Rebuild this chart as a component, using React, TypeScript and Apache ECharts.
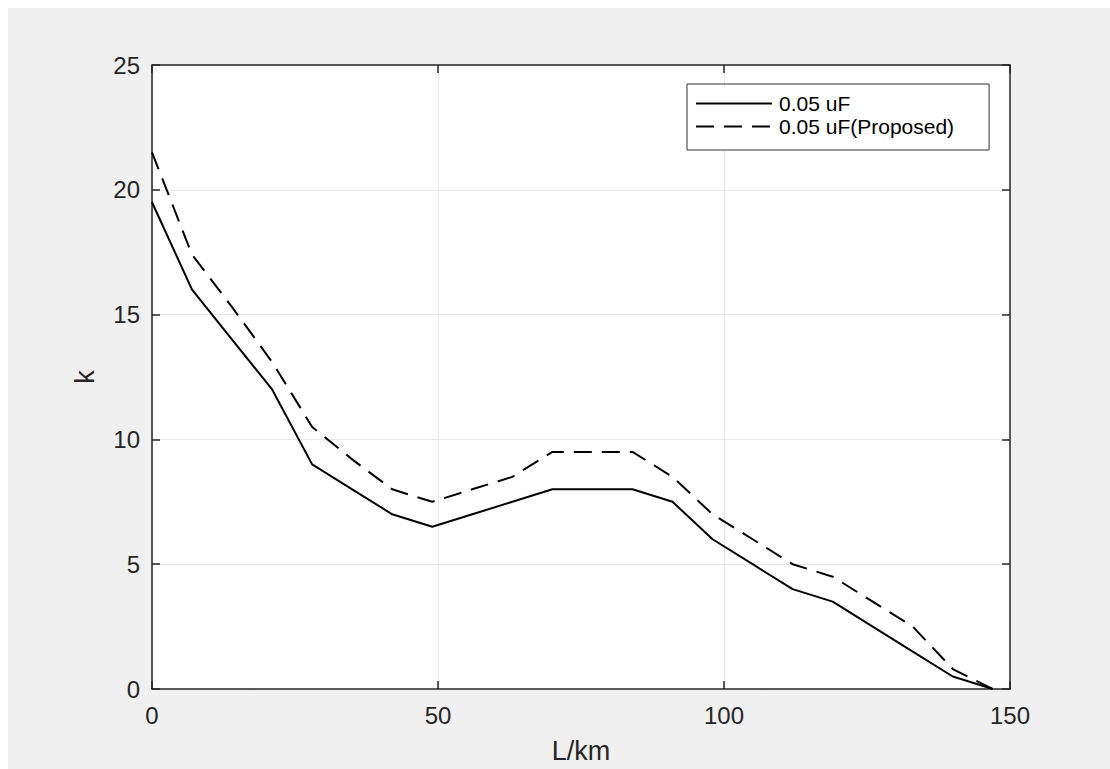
import React, { useEffect, useRef } from "react";
import * as echarts from "echarts";

const distanceKm = [0, 7, 14, 21, 28, 35, 42, 49, 56, 63, 70, 77, 84, 91, 98, 105, 112, 119, 126, 133, 140, 147];
const kBase = [19.5, 16, 14, 12, 9, 8, 7, 6.5, 7, 7.5, 8, 8, 8, 7.5, 6, 5, 4, 3.5, 2.5, 1.5, 0.5, 0];
const kProposed = [21.5, 17.4, 15.3, 13.1, 10.5, 9.2, 8, 7.5, 8, 8.5, 9.5, 9.5, 9.5, 8.5, 7, 6, 5, 4.5, 3.5, 2.5, 0.8, 0];
const seriesNames = ["0.05 uF", "0.05 uF(Proposed)"];
const xName = "L/km";
const yName = "k";

const FONT = "'Liberation Sans', Arial, Helvetica, sans-serif";
const AX = "#262626";

export default function App() {
  const ref = useRef<HTMLDivElement>(null);
  useEffect(() => {
    document.body.style.margin = "0";
    if (!ref.current) return;
    const chart = echarts.init(ref.current, null, { renderer: "svg" });
    const pairs = (ys: number[]) => distanceKm.map((x, i) => [x, ys[i]]);
    const axisLine = () => ({ show: true, onZero: false, lineStyle: { color: AX, width: 1.5 } });
    const axisTick = () => ({ show: true, inside: true, length: 8, lineStyle: { color: AX, width: 1.5 } });
    chart.setOption({
      animation: false,
      backgroundColor: "#f0f0f0",
      textStyle: { fontFamily: FONT },
      grid: { left: 144, top: 57, width: 858, height: 627, show: true, backgroundColor: "#ffffff", borderWidth: 0 },
      legend: {
        orient: "vertical",
        left: 679,
        top: 76,
        data: seriesNames,
        backgroundColor: "#ffffff",
        borderColor: "#333333",
        borderWidth: 1,
        padding: [9, 35, 13, 8],
        itemWidth: 76,
        itemHeight: 14,
        itemGap: 2,
        itemStyle: { opacity: 0 },
        textStyle: { fontFamily: FONT, fontSize: 21, color: "#000", lineHeight: 21, padding: [0, 0, 0, 2] },
      },
      xAxis: [
        {
          type: "value", min: 0, max: 150, interval: 50,
          name: xName, nameLocation: "middle", nameGap: 48,
          nameTextStyle: { fontFamily: FONT, fontSize: 27, color: AX },
          axisLine: axisLine(), axisTick: axisTick(),
          axisLabel: { fontFamily: FONT, fontSize: 24, color: AX, margin: 14 },
          splitLine: { show: true, lineStyle: { color: "#e6e6e6", width: 1 } },
        },
        {
          type: "value", min: 0, max: 150, interval: 50, position: "top",
          axisLine: axisLine(), axisTick: axisTick(), axisLabel: { show: false }, splitLine: { show: false },
        },
      ],
      yAxis: [
        {
          type: "value", min: 0, max: 25, interval: 5,
          name: yName, nameLocation: "middle", nameGap: 54,
          nameTextStyle: { fontFamily: FONT, fontSize: 27, color: AX },
          axisLine: axisLine(), axisTick: axisTick(),
          axisLabel: { fontFamily: FONT, fontSize: 24, color: AX, margin: 12 },
          splitLine: { show: true, lineStyle: { color: "#e6e6e6", width: 1 } },
        },
        {
          type: "value", min: 0, max: 25, interval: 5, position: "right",
          axisLine: axisLine(), axisTick: axisTick(), axisLabel: { show: false }, splitLine: { show: false },
        },
      ],
      series: [
        {
          name: seriesNames[0], type: "line", data: pairs(kBase), symbol: "none",
          xAxisIndex: 0, yAxisIndex: 0,
          lineStyle: { color: "#000", width: 2, type: "solid" },
          itemStyle: { color: "#000" },
        },
        {
          name: seriesNames[1], type: "line", data: pairs(kProposed), symbol: "none",
          xAxisIndex: 0, yAxisIndex: 0,
          lineStyle: { color: "#000", width: 2, type: [18, 10] },
          itemStyle: { color: "#000" },
        },
      ],
    });
    return () => chart.dispose();
  }, []);
  return (
    <div style={{ width: 1110, height: 769, background: "#ffffff", position: "relative", overflow: "hidden" }}>
      <div ref={ref} style={{ position: "absolute", left: 8, top: 8, width: 1102, height: 761 }} />
    </div>
  );
}
